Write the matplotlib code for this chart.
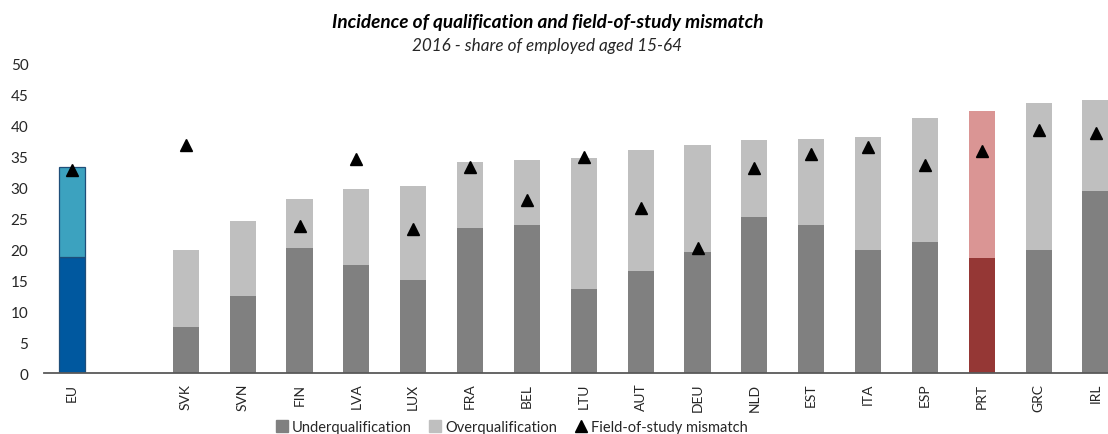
import matplotlib.pyplot as plt
import numpy as np
from matplotlib.lines import Line2D

plt.rcParams["font.family"] = ["Lato", "DejaVu Sans"]

# Shares of employed aged 15-64, 2016 (%)
countries = ["EU", "SVK", "SVN", "FIN", "LVA", "LUX", "FRA", "BEL", "LTU",
             "AUT", "DEU", "NLD", "EST", "ITA", "ESP", "PRT", "GRC", "IRL"]
under_qual = [18.7, 7.5, 12.5, 20.2, 17.5, 15.0, 23.4, 23.8, 13.5,
              16.5, 19.6, 25.1, 23.8, 19.8, 21.1, 18.5, 19.8, 29.4]
over_qual = [14.6, 12.3, 12.0, 7.8, 12.2, 15.2, 10.6, 10.6, 21.2,
             19.5, 17.2, 12.5, 14.0, 18.3, 20.0, 23.7, 23.8, 14.7]
field_mismatch = [32.8, 36.8, np.nan, 23.7, 34.6, 23.3, 33.3, 27.9, 34.8,
                  26.6, 20.1, 33.1, 35.4, 36.4, 33.6, 35.8, 39.2, 38.7]

# colours: grey by default, EU in blue, Portugal in red
under_colors = {"EU": "#00589f", "PRT": "#953735"}
over_colors = {"EU": "#3ca2bf", "PRT": "#da9594"}
GREY_DARK = "#808080"
GREY_LIGHT = "#bfbfbf"

# leave an empty slot after the EU average
pos = np.array([0] + list(range(2, len(countries) + 1)))

c_under = [under_colors.get(c, GREY_DARK) for c in countries]
c_over = [over_colors.get(c, GREY_LIGHT) for c in countries]
edges = ["#1f4e79" if c == "EU" else "none" for c in countries]
lw = [0.9 if c == "EU" else 0 for c in countries]

fig = plt.figure(figsize=(11.08, 4.35), dpi=100)
ax = fig.add_axes([0.0394, 0.1402, 0.975, 0.7126])

width = 0.46
ax.bar(pos, under_qual, width=width, color=c_under, edgecolor=edges, linewidth=lw, zorder=2)
ax.bar(pos, over_qual, width=width, bottom=under_qual, color=c_over,
       edgecolor=edges, linewidth=lw, zorder=2)
ax.plot(pos, field_mismatch, linestyle="none", marker="^", markersize=8.5,
        color="black", zorder=3)

ax.set_xlim(-0.5, len(countries) + 0.5)
ax.set_ylim(0, 50)
ax.set_yticks(range(0, 51, 5))
ax.set_xticks(pos)
ax.set_xticklabels(countries, rotation=90, fontsize=10, color="#262626")
ax.tick_params(axis="y", length=0, pad=11, labelsize=11, labelcolor="#262626")
ax.tick_params(axis="x", length=0, pad=7)

for side in ["left", "right", "top"]:
    ax.spines[side].set_visible(False)
ax.spines["bottom"].set_color("#595959")
ax.spines["bottom"].set_linewidth(1.3)

fig.text(0.494, 0.948, "Incidence of qualification and field-of-study mismatch",
         ha="center", va="center", fontsize=13.7, fontweight="bold", style="italic")
fig.text(0.494, 0.895, "2016 - share of employed aged 15-64",
         ha="center", va="center", fontsize=12.3, style="italic", color="#262626")

handles = [
    Line2D([], [], linestyle="none", marker="s", markersize=8, color=GREY_DARK),
    Line2D([], [], linestyle="none", marker="s", markersize=8, color=GREY_LIGHT),
    Line2D([], [], linestyle="none", marker="^", markersize=8, color="black"),
]
fig.legend(handles, ["Underqualification", "Overqualification", "Field-of-study mismatch"],
           loc="center", bbox_to_anchor=(0.462, 0.016), ncol=3, frameon=False,
           fontsize=10.5, handlelength=0.8, handletextpad=0.3, columnspacing=1.2,
           labelcolor="#262626")

fig.savefig("out.png", dpi=100)
